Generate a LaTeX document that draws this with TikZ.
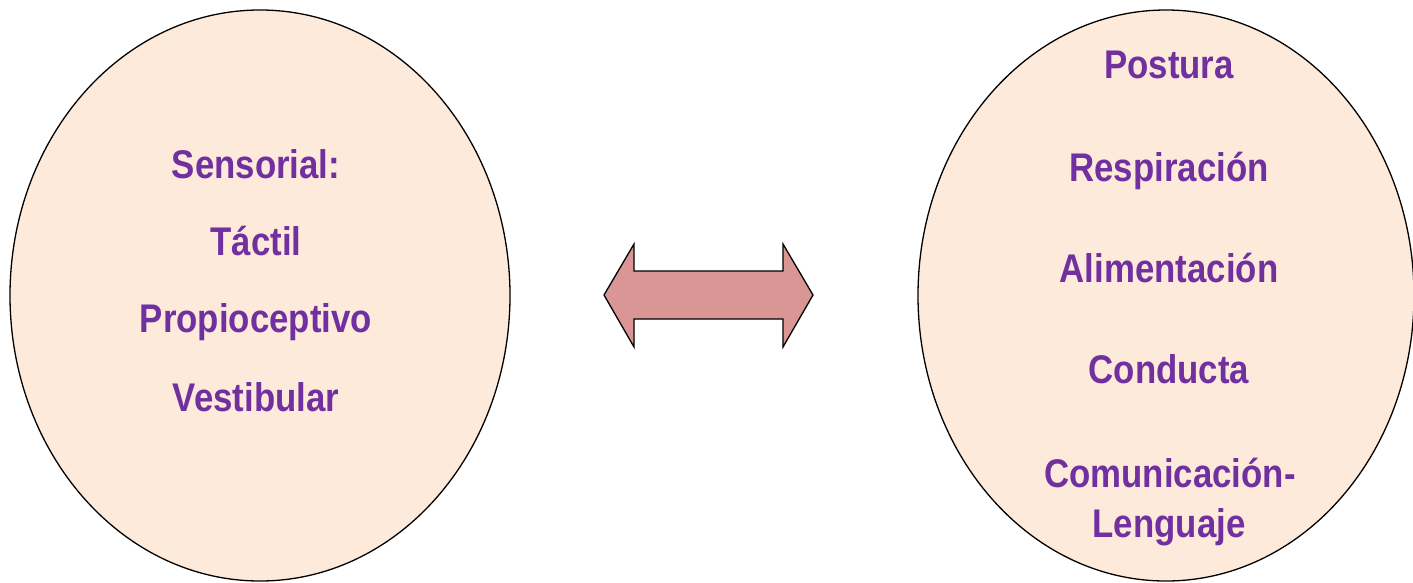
\documentclass[tikz,border=0pt]{standalone}
\usepackage{fontspec}
\setmainfont{Liberation Sans}[BoldFeatures={FakeStretch=0.87}]
\usetikzlibrary{shapes.geometric}
\definecolor{peach}{HTML}{FDEADA}
\definecolor{txtpurple}{HTML}{7030A0}
\definecolor{arrowfill}{HTML}{D99694}
\begin{document}
\begin{tikzpicture}[x=1pt,y=-1pt,
  bubble/.style={ellipse, draw=black, line width=1.3pt, fill=peach, inner sep=0pt,
    minimum width=#1, minimum height=571pt},
  label/.style={anchor=base, text=txtpurple, font=\fontsize{40}{48}\selectfont\bfseries, inner sep=0pt}]
\useasboundingbox (0,0) rectangle (1413,582);
\node (L) [bubble=500pt] at (260,295.5) {};
\node (R) [bubble=496pt] at (1166,295.5) {};
\draw[line width=1.3pt, fill=arrowfill, line join=miter]
  (604,295) -- (634,244) -- (634,271) -- (783,271) -- (783,244) -- (813,295)
  -- (783,347) -- (783,319) -- (634,319) -- (634,347) -- cycle;
\node (l1) [label] at (256,178) {Sensorial:};
\node (l2) [label] at (256,255) {Táctil};
\node (l3) [label] at (256,332) {Propioceptivo};
\node (l4) [label] at (256,411) {Vestibular};
\node (r1) [label] at (1169,78) {Postura};
\node (r2) [label] at (1169,181) {Respiración};
\node (r3) [label] at (1169,282) {Alimentación};
\node (r4) [label] at (1169,383) {Conducta};
\node (r5) [label] at (1170,487) {Comunicación-};
\node (r6) [label] at (1169,537) {Lenguaje};
\end{tikzpicture}
\end{document}
